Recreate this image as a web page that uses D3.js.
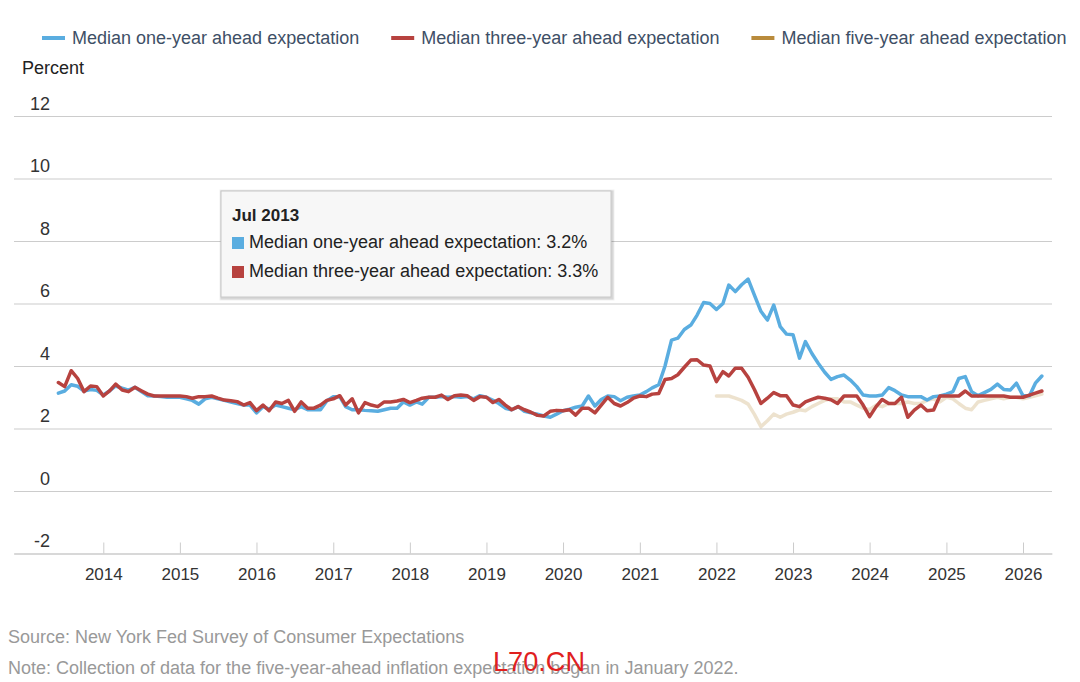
<!DOCTYPE html>
<html>
<head>
<meta charset="utf-8">
<script src="https://cdn.jsdelivr.net/npm/d3@7"></script>
<style>
  html, body { margin: 0; padding: 0; background: #fff; }
  svg { display: block; font-family: "Liberation Sans", Arial, sans-serif; }
</style>
</head>
<body>
<svg id="chart" width="1080" height="682"></svg>
<script>
// ---------------- data ----------------
const seriesNames = [
  "Median one-year ahead expectation",
  "Median three-year ahead expectation",
  "Median five-year ahead expectation"
];
const seriesColors = ["#5aade0", "#b7423f", "#b98b3c"];

// monthly, Jun 2013 .. Apr 2026
const oneYearStart = "2013-06";
const oneYear = [
  3.13, 3.2, 3.4, 3.35, 3.2, 3.25, 3.22,
  3.07, 3.21, 3.36, 3.29, 3.23, 3.32, 3.18, 3.05, 3.04, 3.02, 3.0, 3.0,
  3.0, 2.95, 2.9, 2.78, 2.95, 3.0, 2.95, 2.9, 2.85, 2.8, 2.75, 2.75,
  2.5, 2.7, 2.62, 2.75, 2.7, 2.65, 2.6, 2.7, 2.6, 2.6, 2.6, 2.88,
  3.02, 3.02, 2.7, 2.6, 2.6, 2.58, 2.57, 2.55, 2.6, 2.65, 2.65, 2.85,
  2.75, 2.85, 2.78, 3.0, 3.0, 3.02, 3.0, 3.02, 3.0, 3.02, 2.95, 3.05,
  3.0, 2.9, 2.8, 2.65, 2.6, 2.7, 2.55, 2.5, 2.46, 2.4, 2.36, 2.46,
  2.57, 2.62, 2.68, 2.72, 3.04, 2.72, 2.93, 3.04, 3.02, 2.89, 3.0, 3.04,
  3.07, 3.18, 3.3, 3.4, 4.0, 4.83, 4.89, 5.17, 5.31, 5.63, 6.03, 6.0,
  5.81, 6.0, 6.59, 6.38, 6.6, 6.78, 6.27, 5.75, 5.47, 5.95, 5.26, 5.02,
  5.0, 4.25, 4.78, 4.4, 4.09, 3.8, 3.57, 3.66, 3.71, 3.55, 3.34, 3.07,
  3.04, 3.04, 3.07, 3.31, 3.21, 3.07, 3.02, 3.02, 3.02, 2.91, 3.02, 3.04,
  3.1, 3.18, 3.6, 3.66, 3.18, 3.05, 3.15, 3.25, 3.42, 3.25, 3.23, 3.45,
  3.05, 3.05, 3.45, 3.68
];

const threeYearStart = "2013-06";
const threeYear = [
  3.47, 3.34, 3.85, 3.6, 3.18, 3.36, 3.34,
  3.04, 3.21, 3.42, 3.23, 3.18, 3.32, 3.21, 3.1, 3.04, 3.04, 3.04, 3.04,
  3.04, 3.02, 2.97, 3.02, 3.02, 3.04, 2.97, 2.91, 2.89, 2.86, 2.75, 2.83,
  2.57, 2.75, 2.57, 2.85, 2.8, 2.9, 2.55, 2.85, 2.65, 2.65, 2.75, 2.9,
  2.95, 3.05, 2.75, 2.95, 2.5, 2.83, 2.75, 2.7, 2.85, 2.85, 2.88, 2.93,
  2.83, 2.9, 2.97, 3.0, 3.0, 3.07, 2.93, 3.05, 3.07, 3.05, 2.9, 3.02,
  3.0, 2.83, 2.93, 2.75, 2.6, 2.7, 2.6, 2.52, 2.42, 2.4, 2.55, 2.58,
  2.57, 2.6, 2.43, 2.65, 2.65, 2.5, 2.75, 3.0, 2.8, 2.72, 2.83, 2.97,
  3.04, 3.02, 3.1, 3.12, 3.57, 3.6, 3.72, 3.96, 4.19, 4.2, 4.03, 4.0,
  3.5, 3.82, 3.68, 3.93, 3.93, 3.64, 3.25, 2.8, 2.97, 3.15, 3.05, 3.05,
  2.75, 2.7, 2.85, 2.93, 3.0, 2.97, 2.92, 2.8, 3.04, 3.04, 3.04, 2.75,
  2.38, 2.7, 2.93, 2.8, 2.8, 3.0, 2.36, 2.59, 2.75, 2.57, 2.59, 3.04,
  3.04, 3.04, 3.04, 3.2, 3.04, 3.04, 3.04, 3.04, 3.04, 3.04, 3.0, 3.0,
  3.0, 3.07, 3.13, 3.2
];

// monthly, Jan 2022 .. Apr 2026
const fiveYearStart = "2022-01";
const fiveYear = [
  3.04, 3.04, 3.04, 2.97, 2.9, 2.78, 2.45, 2.06, 2.25, 2.46, 2.36, 2.46,
  2.52, 2.6, 2.57, 2.7, 2.8, 2.9, 2.95, 2.95, 2.85, 2.85, 2.75, 2.65,
  2.6, 2.75, 2.7, 2.8, 2.8, 2.8, 2.85, 2.8, 2.8, 2.9, 2.95, 2.85,
  3.0, 2.95, 2.8, 2.65, 2.6, 2.85, 2.9, 2.95, 3.0, 2.95, 3.0, 3.0,
  2.95, 3.0, 3.05, 3.1
];

const yTicks = [-2, 0, 2, 4, 6, 8, 10, 12];
const xTickYears = [2014, 2015, 2016, 2017, 2018, 2019, 2020, 2021, 2022, 2023, 2024, 2025, 2026];

const tooltipMonth = "2013-07";
const yAxisTitle = "Percent";
const sourceText = "Source: New York Fed Survey of Consumer Expectations";
const noteText = "Note: Collection of data for the five-year-ahead inflation expectation began in January 2022.";
const watermark = "L70.CN";

// ---------------- helpers ----------------
const parseMonth = d3.utcParse("%Y-%m");
function toPoints(start, values) {
  const s = parseMonth(start);
  return values.map((v, i) => ({ date: d3.utcMonth.offset(s, i), value: v }));
}
const series = [
  { name: seriesNames[0], color: seriesColors[0], pts: toPoints(oneYearStart, oneYear), opacity: 1 },
  { name: seriesNames[1], color: seriesColors[1], pts: toPoints(threeYearStart, threeYear), opacity: 1 },
  { name: seriesNames[2], color: seriesColors[2], pts: toPoints(fiveYearStart, fiveYear), opacity: 0.25 }
];

// ---------------- layout ----------------
const svg = d3.select("#chart");
const plotLeft = 14, plotRight = 1052, plotTop = 116, plotBottom = 553.5;

const xRef = d3.scaleUtc()
  .domain([Date.UTC(2014, 0, 1), Date.UTC(2026, 0, 1)])
  .range([103.3, 1023]);
const x = d3.scaleUtc()
  .domain([xRef.invert(plotLeft), xRef.invert(plotRight)])
  .range([plotLeft, plotRight]);
const y = d3.scaleLinear().domain([-2, 12]).range([plotBottom, plotTop]);

// grid + y labels
const gy = svg.append("g").attr("transform", `translate(${plotLeft},0)`)
  .call(d3.axisLeft(y).tickValues(yTicks).tickSize(-(plotRight - plotLeft)).tickFormat(d => String(d)));
gy.select(".domain").remove();
gy.selectAll(".tick line").attr("stroke", "#cccccc").attr("stroke-width", 1.2);
gy.selectAll(".tick text")
  .attr("x", 36).attr("y", -7).attr("dy", null)
  .attr("text-anchor", "end")
  .attr("fill", "#333").style("font-size", "18px");

// x axis
const gx = svg.append("g").attr("transform", `translate(0,${plotBottom})`)
  .call(d3.axisBottom(x)
    .tickValues(xTickYears.map(yr => new Date(Date.UTC(yr, 0, 1))))
    .tickSize(-11).tickSizeOuter(0)
    .tickFormat(d3.utcFormat("%Y")));
gx.select(".domain").attr("stroke", "#cccccc").attr("stroke-width", 1.2);
gx.selectAll(".tick line").attr("stroke", "#cccccc").attr("stroke-width", 1);
gx.selectAll(".tick text")
  .attr("y", 26.5).attr("dy", null)
  .attr("fill", "#333").style("font-size", "17px");

// y title
svg.append("text").attr("x", 22).attr("y", 74)
  .attr("fill", "#222").style("font-size", "18px").text(yAxisTitle);

// lines
const line = d3.line().x(d => x(d.date)).y(d => y(d.value));
const order = [2, 0, 1];
order.forEach(i => {
  const s = series[i];
  svg.append("path")
    .datum(s.pts)
    .attr("d", line)
    .attr("fill", "none")
    .attr("stroke", s.color)
    .attr("stroke-opacity", s.opacity)
    .attr("stroke-width", 3.5)
    .attr("stroke-linejoin", "round")
    .attr("stroke-linecap", "round");
});

// legend
const legend = svg.append("g");
let lx = 42;
series.forEach(s => {
  legend.append("line")
    .attr("x1", lx).attr("x2", lx + 23).attr("y1", 38).attr("y2", 38)
    .attr("stroke", s.color).attr("stroke-width", 4);
  const t = legend.append("text")
    .attr("x", lx + 30).attr("y", 44)
    .attr("fill", "#3e4f66").style("font-size", "18px")
    .text(s.name);
  const w = t.node().getComputedTextLength();
  lx = lx + 30 + w + 32;
});

// tooltip
const tDate = parseMonth(tooltipMonth);
const tip = svg.append("g").attr("transform", "translate(221,191)");
const tipW = 390, tipH = 106;
tip.append("rect").attr("x", 1).attr("y", 1).attr("width", tipW).attr("height", tipH)
  .attr("fill", "none").attr("stroke", "#000").attr("stroke-opacity", 0.06).attr("stroke-width", 5);
tip.append("rect").attr("x", 1).attr("y", 1).attr("width", tipW).attr("height", tipH)
  .attr("fill", "none").attr("stroke", "#000").attr("stroke-opacity", 0.1).attr("stroke-width", 3);
tip.append("rect").attr("width", tipW).attr("height", tipH)
  .attr("fill", "#f7f7f7").attr("stroke", "#c8c8c8").attr("stroke-width", 1);
tip.append("text").attr("x", 11).attr("y", 30)
  .attr("fill", "#222").style("font-size", "17px").style("font-weight", "bold")
  .text(d3.utcFormat("%b %Y")(tDate));
[0, 1].forEach((k, j) => {
  const s = series[k];
  const p = s.pts.find(d => +d.date === +tDate);
  const yy = 57 + j * 29;
  tip.append("rect").attr("x", 11).attr("y", yy - 11).attr("width", 12).attr("height", 12)
    .attr("fill", s.color);
  tip.append("text").attr("x", 28).attr("y", yy)
    .attr("fill", "#222").style("font-size", "18px")
    .text(`${s.name}: ${d3.format(".1f")(p.value)}%`);
});

// footer
svg.append("text").attr("x", 8).attr("y", 643)
  .attr("fill", "#999").style("font-size", "18px").text(sourceText);
svg.append("text").attr("x", 8).attr("y", 674)
  .attr("fill", "#999").style("font-size", "18px").text(noteText);
svg.append("text").attr("x", 493).attr("y", 671)
  .attr("fill", "#e0201e").style("font-size", "28px")
  .attr("textLength", 92).attr("lengthAdjust", "spacingAndGlyphs")
  .text(watermark);
</script>
</body>
</html>
